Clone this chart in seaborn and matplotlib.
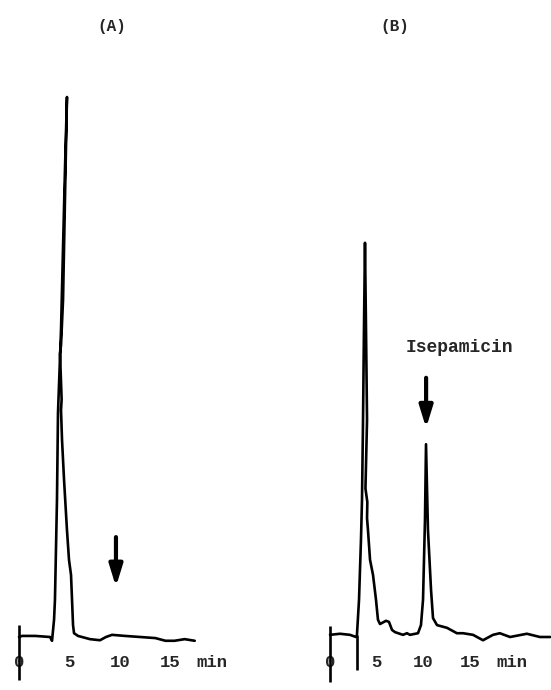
import numpy as np
import pandas as pd
import matplotlib
matplotlib.use('Agg')
import matplotlib.pyplot as plt
import seaborn as sns

# ---- data (time in min, detector signal in arb. units) ----
time_a = [0.0, 0.3, 1.6, 3.07, 3.27, 3.47, 3.56, 3.76, 3.86, 4.16, 4.36, 4.55, 4.75,
          4.55, 4.36, 4.16, 4.06, 4.22, 4.16, 4.26, 4.46, 4.75, 4.95, 5.15, 5.25, 5.35,
          5.45, 5.84, 7.03, 8.02, 8.61, 9.21, 10.5, 12.0, 13.5, 14.5, 15.4, 16.4, 17.4]
signal_a = [0.0, 0.2, 0.2, 0.0, -0.7, 3.2, 6.9, 25.4, 41.5, 56.9, 72.2, 86.5, 100.0,
            80.9, 62.4, 54.0, 52.5, 44.0, 42.0, 36.5, 29.1, 19.8, 14.3, 11.5, 6.9, 2.2,
            0.7, 0.2, -0.4, -0.6, 0.0, 0.4, 0.2, 0.0, -0.2, -0.7, -0.7, -0.4, -0.7]

time_b = [0.0, 1.07, 2.14, 2.79, 2.89, 3.11, 3.32, 3.43, 3.54, 3.64, 3.75, 3.86, 3.97,
          3.80, 4.00, 3.97, 4.07, 4.29, 4.61, 4.93, 5.14, 5.36, 6.0, 6.32, 6.65, 6.97,
          7.82, 8.25, 8.57, 9.43, 9.75, 9.97, 10.18, 10.29, 10.5, 10.83, 11.04, 11.47,
          12.54, 13.6, 14.26, 15.33, 16.4, 17.47, 18.2, 19.3, 21.1, 22.5, 23.6]
signal_b = [0.4, 0.6, 0.4, 0.0, 0.4, 6.9, 18.0, 25.4, 40.2, 56.9, 73.0, 56.9, 40.2,
            27.5, 25.0, 22.0, 19.8, 14.3, 11.5, 6.9, 3.2, 2.4, 3.0, 2.8, 1.3, 0.9,
            0.4, 0.7, 0.4, 0.7, 2.2, 6.9, 21.7, 35.7, 19.8, 8.7, 3.5, 2.2,
            1.7, 0.7, 0.7, 0.4, -0.6, 0.4, 0.7, 0.0, 0.6, 0.0, 0.0]

tick_pos = [0, 5, 10, 15]
tick_labels = ['0', '5', '10', '15']
min_pos_a = 19.1
min_pos_b = 19.5

panel_titles = ['(A)', '(B)']
peak_label = 'Isepamicin'
arrow_time_a = 9.6
arrow_time_b = 10.3

# ---- figure ----
W, H = 551, 690
fig = plt.figure(figsize=(W / 100, H / 100), dpi=100)
sns.set_style('white')
plt.rcParams['font.family'] = ['Liberation Mono', 'DejaVu Sans Mono']

# pixel mapping of the scanned figure
BASE_Y = 637.0   # baseline pixel row
PX_PER_UNIT = 5.4
ylim = ((BASE_Y - H) / PX_PER_UNIT, BASE_Y / PX_PER_UNIT)


def make_axes(left_px, right_px, zero_px, px_per_min):
    ax = fig.add_axes([left_px / W, 0, (right_px - left_px) / W, 1])
    ax.set_xlim((left_px - zero_px) / px_per_min, (right_px - zero_px) / px_per_min)
    ax.set_ylim(*ylim)
    for s in ['top', 'right', 'left']:
        ax.spines[s].set_visible(False)
    ax.spines['bottom'].set_position(('data', 0))
    ax.spines['bottom'].set_visible(False)
    ax.set_yticks([])
    ax.tick_params(axis='x', length=0, pad=13, labelsize=12.5)
    ax.patch.set_alpha(0)
    return ax


ax_a = make_axes(5, 295, 19, 10.1)
ax_b = make_axes(300, 551, 330, 9.33)

df_a = pd.DataFrame({'time': time_a, 'signal': signal_a})
df_b = pd.DataFrame({'time': time_b, 'signal': signal_b})

sns.lineplot(data=df_a, x='time', y='signal', sort=False, ax=ax_a,
             color='black', lw=1.9, estimator=None)
sns.lineplot(data=df_b, x='time', y='signal', sort=False, ax=ax_b,
             color='black', lw=1.9, estimator=None)

# injection / start marks
ax_a.vlines(0, -8.0, 2.2, color='black', lw=1.9)
ax_b.vlines(0, -8.3, 2.0, color='black', lw=1.9)
ax_b.vlines(2.89, -6.1, 0.4, color='black', lw=1.9)

for ax, mpos in [(ax_a, min_pos_a), (ax_b, min_pos_b)]:
    ax.set_xticks(tick_pos + [mpos])
    ax.set_xticklabels(tick_labels + ['min'], fontweight='bold')
    ax.set_xlabel('')
    ax.set_ylabel('')

# panel labels
ax_a.text(9.2, 113.0, panel_titles[0], ha='center', va='center', fontsize=11.5,
          fontweight='bold')
ax_b.text(7.0, 113.0, panel_titles[1], ha='center', va='center', fontsize=11.5,
          fontweight='bold')

# arrows
arrow_kw = dict(arrowstyle='-|>,head_length=1.3,head_width=0.4', lw=3.0,
                color='black', shrinkA=0, shrinkB=0)
ax_a.annotate('', xy=(arrow_time_a, 9.3), xytext=(arrow_time_a, 18.5), arrowprops=arrow_kw)
ax_b.annotate('', xy=(arrow_time_b, 38.7), xytext=(arrow_time_b, 48.0), arrowprops=arrow_kw)
ax_b.text(13.9, 53.7, peak_label, ha='center', va='center', fontsize=13,
          fontweight='bold')

fig.savefig('out.png', dpi=100)
